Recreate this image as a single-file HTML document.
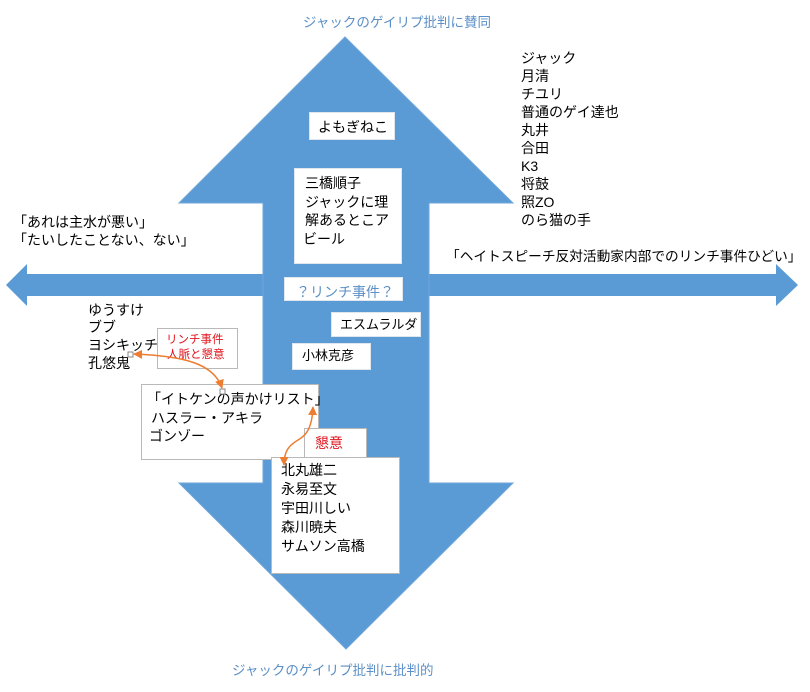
<!DOCTYPE html>
<html><head><meta charset="utf-8">
<style>
html,body{margin:0;padding:0;background:#fff;}
body{width:810px;height:692px;position:relative;overflow:hidden;font-family:"Liberation Sans","Noto Sans CJK JP",sans-serif;font-size:14px;color:#000;}
.t{position:absolute;white-space:nowrap;line-height:18px;}
.box{position:absolute;background:#fff;box-sizing:border-box;}
.bb{border:1px solid #dfe6ee;}
.gb{border:1px solid #b9b9b9;}
.blue{color:#5b8fc6;}
.red{color:#e0141e;}
svg{position:absolute;left:0;top:0;}
</style></head><body>
<svg width="810" height="692" viewBox="0 0 810 692">
  <polygon points="6,285 27,264 27,274 776,274 776,264 798,285 776,306 776,296 27,296 27,306" fill="#5b9bd5"/>
  <polygon points="345,37 513,203 429,203 429,483 513,483 346,649 179,483 263,483 263,203 179,203" fill="#5b9bd5" stroke="#6fa6da" stroke-width="1"/>
</svg>

<div class="t blue" style="left:303px;top:14px;font-size:13.5px;">ジャックのゲイリプ批判に賛同</div>
<div class="t blue" style="left:232px;top:662px;font-size:13.5px;">ジャックのゲイリプ批判に批判的</div>

<div class="t" style="left:521px;top:49px;">ジャック</div>
<div class="t" style="left:521px;top:67px;">月清</div>
<div class="t" style="left:521px;top:85px;">チユリ</div>
<div class="t" style="left:521px;top:103px;">普通のゲイ達也</div>
<div class="t" style="left:521px;top:121px;">丸井</div>
<div class="t" style="left:521px;top:139px;">合田</div>
<div class="t" style="left:521px;top:157px;">K3</div>
<div class="t" style="left:521px;top:175px;">将鼓</div>
<div class="t" style="left:521px;top:193px;">照ZO</div>
<div class="t" style="left:521px;top:211px;">のら猫の手</div>

<div class="t" style="left:13px;top:213px;">「あれは主水が悪い」</div>
<div class="t" style="left:13px;top:231px;">「たいしたことない、ない」</div>

<div class="t" style="left:446px;top:248px;font-size:13.7px;">「ヘイトスピーチ反対活動家内部でのリンチ事件ひどい」</div>

<div class="t" style="left:88px;top:301px;">ゆうすけ</div>
<div class="t" style="left:88px;top:318px;">ブブ</div>
<div class="t" style="left:88px;top:336px;">ヨシキッチ</div>
<div class="t" style="left:88px;top:354px;">孔悠鬼</div>

<div class="box bb" style="left:309px;top:112px;width:86px;height:28px;"></div>
<div class="t" style="left:318px;top:118px;">よもぎねこ</div>

<div class="box bb" style="left:294px;top:168px;width:108px;height:96px;"></div>
<div class="t" style="left:305px;top:174px;">三橋順子</div>
<div class="t" style="left:305px;top:193px;">ジャックに理</div>
<div class="t" style="left:305px;top:211px;">解あるとこア</div>
<div class="t" style="left:303px;top:230px;">ビール</div>

<div class="box bb" style="left:284px;top:277px;width:119px;height:24px;"></div>
<div class="t blue" style="left:296px;top:283px;">？リンチ事件？</div>

<div class="box bb" style="left:331px;top:312px;width:90px;height:25px;"></div>
<div class="t" style="left:340px;top:316px;font-size:13px;">エスムラルダ</div>

<div class="box bb" style="left:292px;top:343px;width:79px;height:27px;"></div>
<div class="t" style="left:302px;top:347px;font-size:13px;">小林克彦</div>

<div class="box gb" style="left:157px;top:328px;width:81px;height:41px;"></div>
<div class="t red" style="left:166px;top:333px;font-size:11.5px;line-height:14px;">リンチ事件</div>
<div class="t red" style="left:167px;top:348px;font-size:11.5px;line-height:14px;">人脈と懇意</div>

<div class="box gb" style="left:141px;top:384px;width:178px;height:76px;"></div>
<div class="t" style="left:147px;top:390px;">「イトケンの声かけリスト」</div>
<div class="t" style="left:151px;top:409px;">ハスラー・アキラ</div>
<div class="t" style="left:149px;top:427px;">ゴンゾー</div>

<div class="box gb" style="left:304px;top:428px;width:63px;height:40px;"></div>
<div class="t red" style="left:315px;top:434px;">懇意</div>

<div class="box gb" style="left:271px;top:457px;width:129px;height:117px;"></div>
<div class="t" style="left:281px;top:461px;">北丸雄二</div>
<div class="t" style="left:281px;top:480px;">永易至文</div>
<div class="t" style="left:281px;top:499px;">宇田川しい</div>
<div class="t" style="left:281px;top:518px;">森川暁夫</div>
<div class="t" style="left:281px;top:537px;">サムソン高橋</div>

<svg width="810" height="692" viewBox="0 0 810 692">
  <defs>
    <marker id="ah" viewBox="0 0 10 10" refX="9" refY="5" markerWidth="6" markerHeight="6" orient="auto-start-reverse">
      <path d="M0,0 L10,5 L0,10 z" fill="#ed7d31"/>
    </marker>
  </defs>
  <path d="M134,354 C185,356 214,364 222,388" fill="none" stroke="#ed7d31" stroke-width="1.5" marker-start="url(#ah)" marker-end="url(#ah)"/>
  <path d="M313,407 C312,430 305,436 298,440 C288,446 284,452 284,465" fill="none" stroke="#ed7d31" stroke-width="1.5" marker-start="url(#ah)" marker-end="url(#ah)"/>
  <rect x="128" y="352" width="5" height="5" fill="#fff" stroke="#888" stroke-width="1"/>
  <rect x="220" y="389" width="5" height="5" fill="#fff" stroke="#888" stroke-width="1"/>
</svg>
</body></html>
